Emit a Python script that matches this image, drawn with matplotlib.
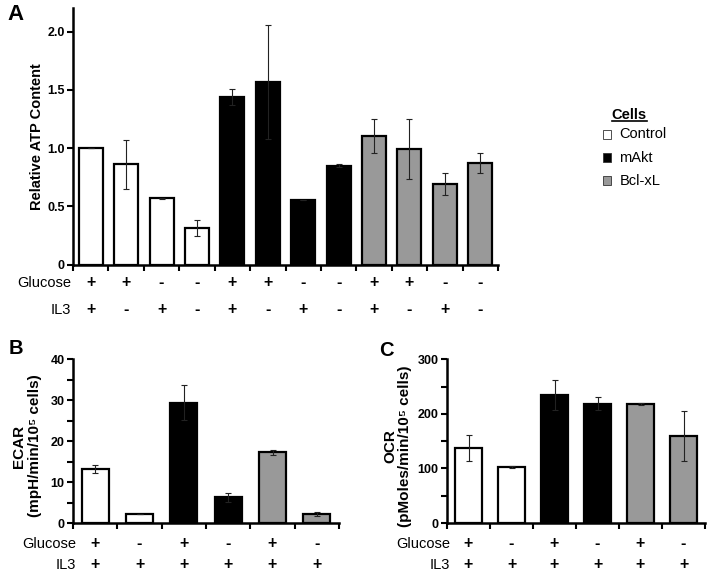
import matplotlib
matplotlib.use("Agg")
import matplotlib.pyplot as plt
from matplotlib.patches import Rectangle
from matplotlib.lines import Line2D
import numpy as np

plt.rcParams['font.family'] = ['Liberation Sans', 'DejaVu Sans']

# ---------------- data ----------------
cell_types = ["Control", "mAkt", "Bcl-xL"]
cell_colors = {"Control": "#ffffff", "mAkt": "#000000", "Bcl-xL": "#999999"}

A_cells = ["Control"] * 4 + ["mAkt"] * 4 + ["Bcl-xL"] * 4
A_vals = [1.00, 0.86, 0.57, 0.315, 1.44, 1.565, 0.555, 0.85, 1.105, 0.99, 0.695, 0.87]
A_err = [0.0, 0.21, 0.005, 0.07, 0.07, 0.49, 0.0, 0.015, 0.145, 0.26, 0.095, 0.086]
A_glucose = ["+", "+", "-", "-"] * 3
A_il3 = ["+", "-", "+", "-"] * 3
A_yticks = [0, 0.5, 1.0, 1.5, 2.0]
A_yticklabels = ["0", "0.5", "1.0", "1.5", "2.0"]

B_cells = ["Control", "Control", "mAkt", "mAkt", "Bcl-xL", "Bcl-xL"]
B_vals = [13.2, 2.2, 29.4, 6.3, 17.3, 2.2]
B_err = [0.9, 0.0, 4.3, 1.1, 0.6, 0.6]
B_glucose = ["+", "-", "+", "-", "+", "-"]
B_il3 = ["+"] * 6
B_yticks = [0, 10, 20, 30, 40]

C_cells = ["Control", "Control", "mAkt", "mAkt", "Bcl-xL", "Bcl-xL"]
C_vals = [137, 102.6, 234.5, 218.6, 218, 159.4]
C_err = [24, 1.0, 27, 12, 1.5, 45]
C_glucose = ["+", "-", "+", "-", "+", "-"]
C_il3 = ["+"] * 6
C_yticks = [0, 100, 200, 300]

W, H = 714, 578
fig = plt.figure(figsize=(W / 100, H / 100), dpi=100)


def px_axes(left, top, right, bottom):
    return fig.add_axes([left / W, 1 - bottom / H, (right - left) / W, (bottom - top) / H])


def draw_panel(ax, cells, vals, errs, glucose, il3, width, yticks, yticklabels, ylim,
               minor_step, row_offsets, label_dx):
    n = len(vals)
    x = np.arange(n)
    colors = [cell_colors[c] for c in cells]
    ax.bar(x, vals, width=width, color=colors, edgecolor="black", linewidth=1.6, zorder=2)
    ax.errorbar(x, vals, yerr=errs, fmt="none", ecolor="#222222", elinewidth=0.8,
                capsize=2.5, capthick=0.8, zorder=3)
    ax.set_xlim(-0.5, n - 0.5)
    ax.set_ylim(*ylim)
    for s in ["top", "right"]:
        ax.spines[s].set_visible(False)
    for s in ["left", "bottom"]:
        ax.spines[s].set_linewidth(1.8)
    ax.set_xticks(np.arange(-0.5, n, 1.0))
    ax.set_xticklabels([])
    ax.tick_params(axis="x", direction="out", length=4, width=1.5)
    ax.set_yticks(yticks)
    ax.set_yticklabels(yticklabels if yticklabels else [str(t) for t in yticks],
                       fontsize=9, fontweight="bold")
    ax.tick_params(axis="y", direction="out", length=4, width=1.5, pad=2)
    if minor_step:
        ax.set_yticks(np.arange(ylim[0], ylim[1] + 1e-9, minor_step), minor=True)
        ax.tick_params(axis="y", which="minor", direction="out", length=4, width=1.5)
    g_off, i_off = row_offsets
    for row, off, name in [(glucose, g_off, "Glucose"), (il3, i_off, "IL3")]:
        ax.annotate(name, xy=(0, 0), xycoords="axes fraction", xytext=(label_dx, -off),
                    textcoords="offset points", ha="right", va="baseline", fontsize=10.5)
        for xi, s in zip(x, row):
            ax.annotate(s, xy=(xi, 0), xycoords=("data", "axes fraction"),
                        xytext=(0, -off), textcoords="offset points",
                        ha="center", va="baseline", fontsize=11.5, fontweight="bold")


# ---------------- Panel A ----------------
axA = px_axes(73, 8.3, 498, 264.5)
draw_panel(axA, A_cells, A_vals, A_err, A_glucose, A_il3, 0.68, A_yticks, A_yticklabels,
           (0, 2.2), None, (16.4, 35.6), -1.5)
axA.text(-0.085, 0.5, "Relative ATP Content", transform=axA.transAxes, rotation=90,
         ha="center", va="center", rotation_mode="anchor", fontsize=10.5, fontweight="bold")

# ---------------- Panel B ----------------
axB = px_axes(73, 359.3, 339, 523)
draw_panel(axB, B_cells, B_vals, B_err, B_glucose, B_il3, 0.61, B_yticks, None,
           (0, 40), 5, (17.8, 33.3), 2.2)
axB.text(-0.173, 0.47, "ECAR\n(mpH/min/10\u2075 cells)", transform=axB.transAxes,
         rotation=90, ha="center", va="center", rotation_mode="anchor", fontsize=11,
         fontweight="bold", multialignment="center", linespacing=1.1)

# ---------------- Panel C ----------------
axC = px_axes(447, 359.3, 705, 523)
draw_panel(axC, C_cells, C_vals, C_err, C_glucose, C_il3, 0.61, C_yticks, None,
           (0, 300), 50, (17.8, 33.3), 2.2)
axC.text(-0.192, 0.47, "OCR\n(pMoles/min/10\u2075 cells)", transform=axC.transAxes,
         rotation=90, ha="center", va="center", rotation_mode="anchor", fontsize=11,
         fontweight="bold", multialignment="center", linespacing=1.1)

# ---------------- Panel letters ----------------
fig.text(15 / W, 1 - 15 / H, "A", ha="center", va="center", fontsize=16, fontweight="bold")
fig.text(15.5 / W, 1 - 348 / H, "B", ha="center", va="center", fontsize=14.5, fontweight="bold")
fig.text(386 / W, 1 - 350 / H, "C", ha="center", va="center", fontsize=14.5, fontweight="bold")

# ---------------- Legend ----------------
fig.text(629 / W, 1 - 115 / H, "Cells", ha="center", va="center", fontsize=10.5,
         fontweight="bold")
fig.add_artist(Line2D([612 / W, 646.5 / W], [1 - 121.5 / H, 1 - 121.5 / H],
                      transform=fig.transFigure, color="black", linewidth=1.2))
for name, yc in zip(cell_types, [134.5, 157.5, 180.8]):
    fig.add_artist(Rectangle((602.7 / W, 1 - (yc + 4) / H), 8.5 / W, 8.5 / H,
                             transform=fig.transFigure, facecolor=cell_colors[name],
                             edgecolor="#333333", linewidth=0.6))
    fig.text(619.3 / W, 1 - yc / H, name, ha="left", va="center", fontsize=10.5)

fig.savefig("out.png", dpi=100)
